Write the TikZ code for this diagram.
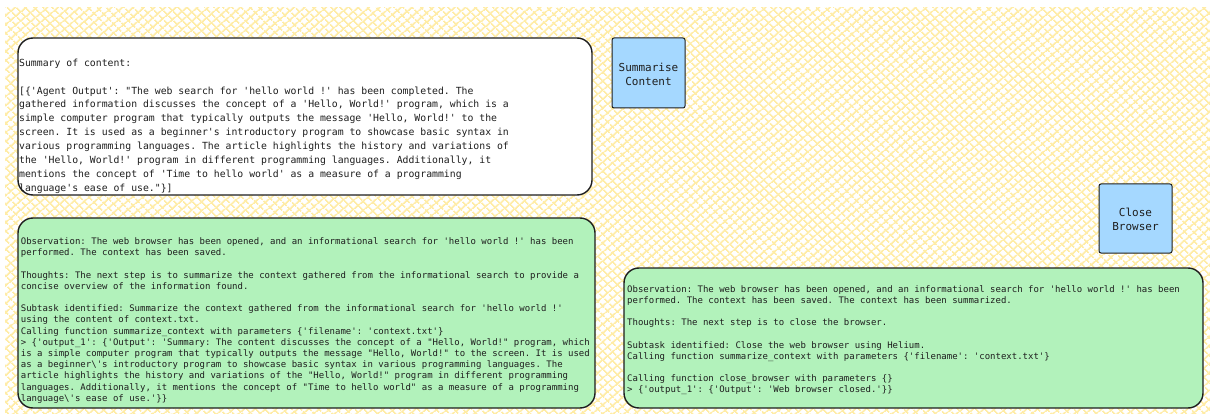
\documentclass[tikz,border=0pt]{standalone}
\usepackage{fontspec}
\setmonofont{DejaVu Sans Mono}
\usetikzlibrary{patterns.meta}
\definecolor{ink}{HTML}{1E1E1E}
\definecolor{hatch}{HTML}{FFECA6}
\definecolor{greenbg}{HTML}{B2F2BB}
\definecolor{bluebg}{HTML}{A5D8FF}
\tikzset{
  card/.style={draw=ink, line width=1.4pt, rounded corners=15pt},
  whitecard/.style={card, fill=white},
  greencard/.style={card, fill=greenbg},
  action/.style={draw=ink, line width=1pt, fill=bluebg, rounded corners=2pt},
  bigtext/.style={anchor=north west, inner sep=0pt, align=left, text=ink, font=\fontsize{9.8}{13.9}\selectfont\ttfamily},
  smalltext/.style={anchor=north west, inner sep=0pt, align=left, text=ink, font=\fontsize{9}{11.2}\selectfont\ttfamily},
  labeltext/.style={align=center, inner sep=0pt, text=ink, font=\fontsize{11}{13.8}\selectfont\ttfamily},
}
\begin{document}
\begin{tikzpicture}[x=1pt, y=-1pt]
\useasboundingbox (0,0) rectangle (1210,414);
% hatched background
\fill[white] (5,8) rectangle (1210,414);
\fill[pattern={Lines[angle=40,distance=6.5pt,line width=1.7pt]}, pattern color=hatch] (5,8) rectangle (1210,414);
\fill[pattern={Lines[angle=-45,distance=6.5pt,line width=1.7pt]}, pattern color=hatch] (5,8) rectangle (1210,414);

% cards
\draw[whitecard] (18,38) rectangle (592,195);
\draw[greencard] (18,218) rectangle (595,408);
\draw[greencard] (624,268) rectangle (1203,408);

% action boxes
\draw[action] (612,38) rectangle (685,108);
\node[labeltext] (summ) at (648.5,74.5) {Summarise\\Content};
\draw[action] (1099,184) rectangle (1172,253);
\node[labeltext] (close) at (1135.5,219.5) {Close\\Browser};

% texts
\node[bigtext] (summary) at (19,58.5) {Summary of content:\\[14pt]
[\{'Agent Output': "The web search for 'hello world !' has been completed. The\\
gathered information discusses the concept of a 'Hello, World!' program, which is a\\
simple computer program that typically outputs the message 'Hello, World!' to the\\
screen. It is used as a beginner's introductory program to showcase basic syntax in\\
various programming languages. The article highlights the history and variations of\\
the 'Hello, World!' program in different programming languages. Additionally, it\\
mentions the concept of 'Time to hello world' as a measure of a programming\\
language's ease of use."\}]};

\node[smalltext] (obs1) at (20.7,237.5) {Observation: The web browser has been opened, and an informational search for 'hello world !' has been\\
performed. The context has been saved.\\[11.2pt]
Thoughts: The next step is to summarize the context gathered from the informational search to provide a\\
concise overview of the information found.\\[11.2pt]
Subtask identified: Summarize the context gathered from the informational search for 'hello world !'\\
using the content of context.txt.\\
Calling function summarize\_context with parameters \{'filename': 'context.txt'\}\\
> \{'output\_1': \{'Output': 'Summary: The content discusses the concept of a "Hello, World!" program, which\\
is a simple computer program that typically outputs the message "Hello, World!" to the screen. It is used\\
as a beginner\textbackslash's introductory program to showcase basic syntax in various programming languages. The\\
article highlights the history and variations of the "Hello, World!" program in different programming\\
languages. Additionally, it mentions the concept of "Time to hello world" as a measure of a programming\\
language\textbackslash's ease of use.'\}\}};

\node[smalltext] (obs2) at (627,285) {Observation: The web browser has been opened, and an informational search for 'hello world !' has been\\
performed. The context has been saved. The context has been summarized.\\[11.2pt]
Thoughts: The next step is to close the browser.\\[11.2pt]
Subtask identified: Close the web browser using Helium.\\
Calling function summarize\_context with parameters \{'filename': 'context.txt'\}\\[11.2pt]
Calling function close\_browser with parameters \{\}\\
> \{'output\_1': \{'Output': 'Web browser closed.'\}\}};
\end{tikzpicture}
\end{document}
